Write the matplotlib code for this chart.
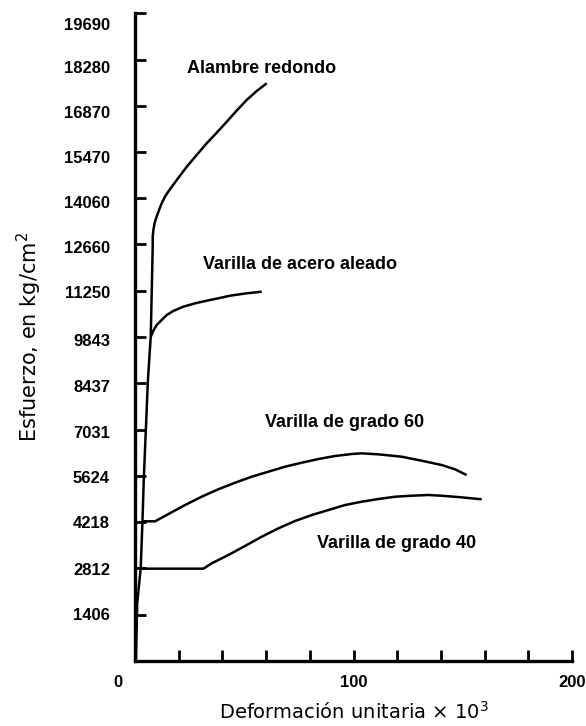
import matplotlib.pyplot as plt
from matplotlib.transforms import ScaledTranslation


# tramo elastico + alambre redondo
alambre_x = [0.4, 1.0, 2.6, 3.4, 4.0, 5.9, 7.2, 8.1, 8.1, 8.4, 9.0, 9.9, 11.0, 12.2, 13.7, 15.2, 17.1,
	19.1, 23.7, 28.2, 32.8, 37.4, 42.0, 46.5, 51.1, 55.7, 60.3]
alambre_y = [0, 1746, 2812, 4218, 5500, 8537, 9854, 12591, 12896, 13099, 13321, 13504, 13707, 13911, 14112, 14264, 14437,
	14620, 15024, 15380, 15736, 16059, 16393, 16728, 17053, 17327, 17561]

acero_x = [7.2, 8.4, 9.9, 12.2, 14.5, 17.5, 22.1, 27.5, 32.8, 38.1, 43.5, 51.1, 58.0]
acero_y = [9854, 10037, 10210, 10362, 10514, 10636, 10767, 10870, 10949, 11022, 11101, 11174, 11223]

grado60_x = [3.4, 9.2, 15.3, 22.9, 30.5, 38.1, 45.8, 53.4, 61.0, 68.6, 76.3, 83.9, 91.5, 99.2, 103.7,
	111.4, 122.0, 131.2, 140.4, 146.5, 151.8]
grado60_y = [4240, 4240, 4462, 4735, 4988, 5213, 5414, 5596, 5748, 5900, 6022, 6134, 6226, 6287, 6307,
	6277, 6205, 6083, 5951, 5820, 5647]

grado40_x = [2.6, 31.3, 35.1, 42.7, 50.3, 58.0, 65.6, 73.2, 80.9, 88.5, 96.1, 103.7, 111.4, 119.0,
	126.6, 134.2, 140.4, 149.5, 158.7]
grado40_y = [2800, 2800, 2962, 3215, 3488, 3771, 4026, 4249, 4431, 4583, 4735, 4836, 4918, 4988,
	5018, 5040, 5018, 4969, 4909]

y_ticks = [1406, 2812, 4218, 5624, 7031, 8437, 9843, 11250, 12660, 14060, 15470, 16870, 18280, 19690]
x_ticks = list(range(0, 201, 20))
x_labels = {0: "0", 100: "100", 200: "200"}

etiquetas = [
	("Alambre redondo", 23.6, 18026),
	("Varilla de acero aleado", 31.1, 12035),
	("Varilla de grado 60", 59.5, 7260),
	("Varilla de grado 40", 83.2, 3580),
]

# en el original los numeros de arriba quedan algo mas bajos que su marca (px)
bajada = [-1, 1, 0, 1, 2, 3, 3, 1, 3, 4, 5, 6, 7, 11]

negrita = dict(family="Liberation Sans", fontweight="bold")


fig = plt.figure(figsize=(5.86, 7.26), dpi=100)
ax = fig.add_axes([0.2304, 0.0899, 0.7457, 0.8918])

for xs, ys in [(alambre_x, alambre_y), (acero_x, acero_y), (grado60_x, grado60_y), (grado40_x, grado40_y)]:
	ax.plot(xs, ys, color="black", lw=1.8, solid_joinstyle="round", solid_capstyle="butt")

for texto, x, y in etiquetas:
	ax.text(x, y, texto, fontsize=13, ha="left", va="center", **negrita)

ax.set_xlim(0, 200)
ax.set_ylim(0, 19690)
ax.spines["top"].set_visible(False)
ax.spines["right"].set_visible(False)
ax.spines["left"].set_linewidth(2.4)
ax.spines["bottom"].set_linewidth(2.4)

ax.set_yticks(y_ticks)
ax.set_yticklabels([str(v) for v in y_ticks], fontsize=12, **negrita)
ax.set_xticks(x_ticks)
ax.set_xticklabels([x_labels.get(v, "") for v in x_ticks], fontsize=12, **negrita)
ax.tick_params(axis="y", direction="in", length=8, width=2, pad=18)
ax.tick_params(axis="x", direction="in", length=8, width=2, pad=10)

# el "0" del eje x va corrido a la izquierda
cero = ax.get_xticklabels()[0]
cero.set_transform(cero.get_transform() + ScaledTranslation(-12 / 72, 0, fig.dpi_scale_trans))

for lab, d in zip(ax.get_yticklabels(), bajada):
	lab.set_transform(lab.get_transform() + ScaledTranslation(0, -d / 100, fig.dpi_scale_trans))

ax.set_xlabel(r"Deformación unitaria $\times$ 10$^3$", fontsize=14, labelpad=8)
ax.set_ylabel(r"Esfuerzo, en kg/cm$^2$", fontsize=15, labelpad=14)

fig.savefig("out.png", dpi=100)
